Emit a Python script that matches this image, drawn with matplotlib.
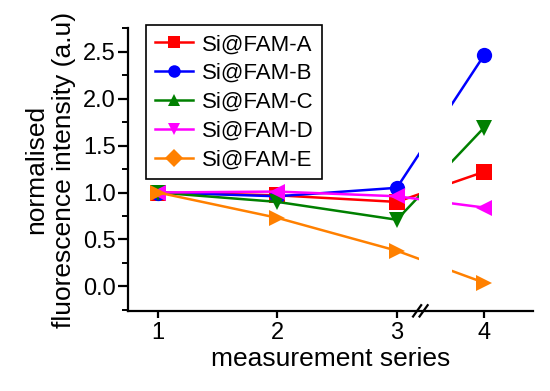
import matplotlib
matplotlib.use("Agg")
import matplotlib.pyplot as plt
from matplotlib.lines import Line2D
from matplotlib.ticker import MultipleLocator

plt.rcParams["font.family"] = ["Liberation Sans", "DejaVu Sans"]

# data
series = [1, 2, 3, 4]
labels = ["Si@FAM-A", "Si@FAM-B", "Si@FAM-C", "Si@FAM-D", "Si@FAM-E"]
fam_a = [1.00, 0.97, 0.90, 1.22]
fam_b = [1.00, 0.96, 1.05, 2.46]
fam_c = [1.00, 0.90, 0.71, 1.69]
fam_d = [1.00, 1.01, 0.96, 0.84]
fam_e = [1.00, 0.73, 0.38, 0.04]
values = [fam_a, fam_b, fam_c, fam_d, fam_e]

colors = ["#ff0000", "#0000ff", "#008000", "#ff00ff", "#ff8000"]
plot_markers = ["s", "o", "v", "<", ">"]
legend_markers = ["s", "o", "^", "v", "D"]

# broken x axis: 4 sits closer to 3 than the regular spacing
xpos = [1, 2, 3, 3.73]
gap = (3.185, 3.46)

fig = plt.figure(figsize=(5.5, 3.91), dpi=100)
ax = fig.add_axes([0.233, 0.205, 0.736, 0.723])

for vals, c, m in zip(values, colors, plot_markers):
    ax.plot(xpos, vals, color=c, marker=m, markersize=11, linewidth=1.8,
            markeredgewidth=0, zorder=2)

# white gap through the lines at the break
ax.axvspan(gap[0], gap[1], color="white", zorder=2.2, lw=0)

ax.set_xlim(0.75, 4.14)
ax.set_ylim(-0.26, 2.75)
ax.set_xticks(xpos)
ax.set_xticklabels([str(s) for s in series])
ax.yaxis.set_major_locator(MultipleLocator(0.5))
ax.yaxis.set_minor_locator(MultipleLocator(0.25))
ax.yaxis.set_major_formatter(plt.FormatStrFormatter("%.1f"))

for side in ["top", "right"]:
    ax.spines[side].set_visible(False)
for side in ["left", "bottom"]:
    ax.spines[side].set_linewidth(1.6)

ax.tick_params(axis="y", which="major", length=7, width=1.6, labelsize=17, pad=2)
ax.tick_params(axis="y", which="minor", length=4, width=1.4)
ax.tick_params(axis="x", which="major", length=5, width=1.6, labelsize=17, pad=3)

ax.set_xlabel("measurement series", fontsize=19, labelpad=2)
ax.set_ylabel("normalised\nfluorescence intensity (a.u)", fontsize=19, labelpad=5)

# break marks on the x axis
bx = (ax.transData.transform((3.17, 0))[0] - ax.transAxes.transform((0, 0))[0]) / (
    ax.transAxes.transform((1, 0))[0] - ax.transAxes.transform((0, 0))[0])
for dx in (0.0, 0.016):
    ax.plot([bx + dx - 0.01, bx + dx + 0.01], [-0.02, 0.02], transform=ax.transAxes,
            color="black", lw=1.6, clip_on=False, zorder=3)

handles = [Line2D([], [], color=c, marker=m, markersize=9, linewidth=1.8,
                  markeredgewidth=0)
           for c, m in zip(colors, legend_markers)]
leg = ax.legend(handles, labels, loc="upper left", bbox_to_anchor=(0.044, 1.01),
                fontsize=16, frameon=True, fancybox=False, framealpha=1,
                handlelength=1.7, handletextpad=0.4, labelspacing=0.35,
                borderpad=0.4, borderaxespad=0.0)
leg.get_frame().set_edgecolor("black")
leg.get_frame().set_linewidth(1.2)

fig.savefig("out.png", dpi=100)
